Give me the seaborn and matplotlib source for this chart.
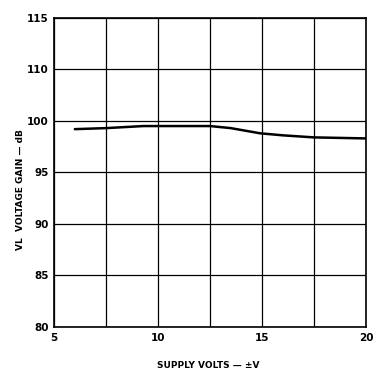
import matplotlib
matplotlib.use("Agg")
import matplotlib.pyplot as plt
import seaborn as sns
import pandas as pd

# Voltage gain vs supply voltage
supply_volts = [6.0, 7.5, 9.3, 10.0, 12.5, 13.5, 14.9, 16.0, 17.5, 20.0]
gain_db = [99.2, 99.3, 99.5, 99.5, 99.5, 99.3, 98.8, 98.6, 98.4, 98.3]

x_ticks = [5, 10, 15, 20]
x_grid = [5, 7.5, 10, 12.5, 15, 17.5, 20]
y_ticks = [80, 85, 90, 95, 100, 105, 110]
y_tick_labels = ["80", "85", "90", "95", "100", "110", "115"]

df = pd.DataFrame({"volts": supply_volts, "gain": gain_db})

sns.set_theme(style="white")
plt.rcParams["font.family"] = ["DejaVu Sans"]

fig = plt.figure(figsize=(3.78, 3.80), dpi=100)
ax = fig.add_axes([0.143, 0.1395, 0.825, 0.8135])

for gx in x_grid:
    ax.axvline(gx, color="black", lw=0.9, zorder=1)
for gy in y_ticks:
    ax.axhline(gy, color="black", lw=0.9, zorder=1)

sns.lineplot(data=df, x="volts", y="gain", ax=ax, color="black", lw=1.8, zorder=3)

ax.set_xlim(5, 20)
ax.set_ylim(80, 110)
ax.set_xticks(x_ticks)
ax.set_xticklabels([str(t) for t in x_ticks], fontsize=7.5, fontweight="bold", color="black")
ax.set_yticks(y_ticks)
ax.set_yticklabels(y_tick_labels, fontsize=7.5, fontweight="bold", color="black")
ax.tick_params(length=0, pad=4)
ax.set_xlabel("")
ax.set_ylabel("")
for s in ax.spines.values():
    s.set_color("black")
    s.set_linewidth(1.2)

fig.text(0.552, 0.037, "SUPPLY VOLTS — ±V", ha="center", va="center",
         fontsize=6.5, fontweight="bold", color="black")
fig.text(0.053, 0.50, "VL  VOLTAGE GAIN — dB", ha="center", va="center",
         rotation=90, fontsize=6.5, fontweight="bold", color="black")

fig.savefig("out.png", dpi=100, facecolor="white")
